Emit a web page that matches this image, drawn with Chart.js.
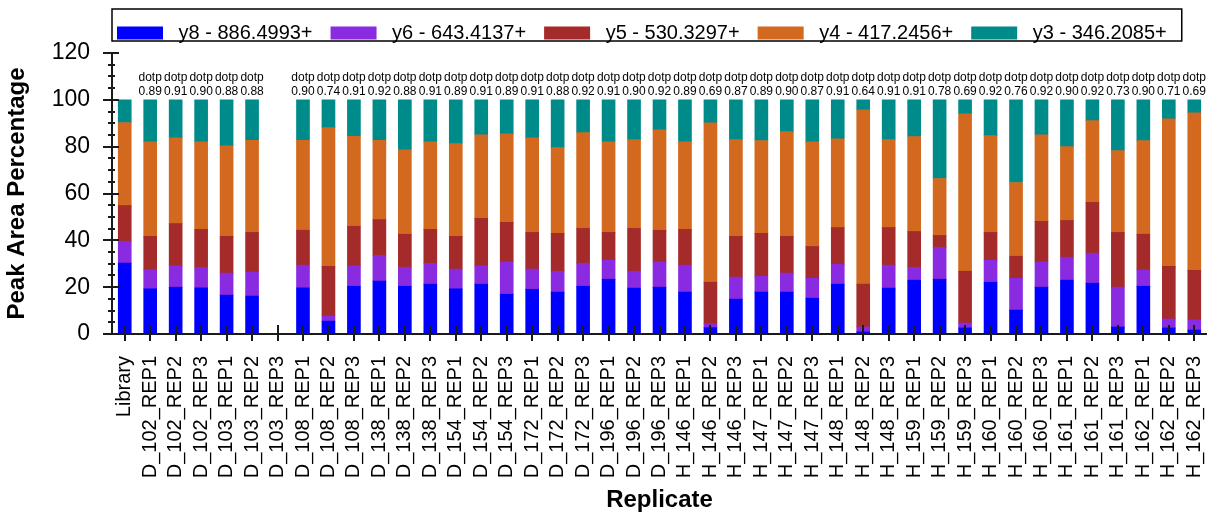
<!DOCTYPE html>
<html>
<head>
<meta charset="utf-8">
<script src="https://cdn.jsdelivr.net/npm/chart.js@4.4.0/dist/chart.umd.min.js"></script>
<style>
  html, body { margin: 0; padding: 0; background: #fff; }
  #wrap { width: 1211px; height: 517px; }
</style>
</head>
<body>
<div id="wrap"><canvas id="peakChart" width="1211" height="517"></canvas></div>
<script>
// replicates on the x axis
var replicates = [
  'Library',
  'D_102_REP1', 'D_102_REP2', 'D_102_REP3',
  'D_103_REP1', 'D_103_REP2', 'D_103_REP3',
  'D_108_REP1', 'D_108_REP2', 'D_108_REP3',
  'D_138_REP1', 'D_138_REP2', 'D_138_REP3',
  'D_154_REP1', 'D_154_REP2', 'D_154_REP3',
  'D_172_REP1', 'D_172_REP2', 'D_172_REP3',
  'D_196_REP1', 'D_196_REP2', 'D_196_REP3',
  'H_146_REP1', 'H_146_REP2', 'H_146_REP3',
  'H_147_REP1', 'H_147_REP2', 'H_147_REP3',
  'H_148_REP1', 'H_148_REP2', 'H_148_REP3',
  'H_159_REP1', 'H_159_REP2', 'H_159_REP3',
  'H_160_REP1', 'H_160_REP2', 'H_160_REP3',
  'H_161_REP1', 'H_161_REP2', 'H_161_REP3',
  'H_162_REP1', 'H_162_REP2', 'H_162_REP3'
];

// peak area percentage per transition (stacked bottom to top)
var y8 = [30.3, 19.3, 20.0, 19.7, 16.6, 16.2, 0, 19.7, 5.5, 20.4, 22.6, 20.4, 21.3, 19.3, 21.3, 17.0,
  19.1, 17.9, 20.4, 23.4, 19.6, 20.0, 17.9, 2.7, 14.9, 17.9, 17.9, 15.3, 21.3, 0.9, 19.6,
  23.0, 23.4, 2.6, 22.1, 10.2, 20.0, 23.0, 21.7, 3.0, 20.4, 2.6, 1.7];
var y6 = [9.3, 8.1, 9.1, 8.8, 9.4, 10.3, 0, 9.7, 2.2, 8.7, 11.0, 8.1, 8.9, 8.4, 7.8, 13.8,
  8.6, 8.9, 9.8, 8.1, 7.2, 10.8, 11.5, 1.7, 9.4, 6.8, 8.1, 8.5, 8.5, 2.1, 9.8,
  5.5, 13.6, 2.1, 9.4, 13.6, 10.8, 9.8, 12.8, 17.0, 7.0, 3.8, 4.3];
var y5 = [15.3, 14.3, 18.1, 16.2, 15.7, 16.9, 0, 14.9, 21.2, 16.9, 15.3, 14.1, 14.5, 14.0, 20.3, 16.9,
  15.7, 16.2, 14.9, 11.9, 18.3, 13.5, 15.3, 17.7, 17.4, 18.3, 15.7, 13.6, 15.7, 18.3, 16.1,
  15.3, 5.1, 22.1, 11.9, 9.4, 17.3, 15.7, 21.7, 23.4, 15.2, 22.5, 21.2];
var y4 = [35.4, 40.4, 36.6, 37.4, 38.7, 39.3, 0, 38.4, 59.2, 38.4, 33.8, 36.1, 37.4, 39.6, 35.7, 37.8,
  40.4, 36.6, 40.9, 38.7, 37.9, 42.9, 37.4, 68.1, 41.3, 39.6, 44.7, 44.7, 37.9, 74.4, 37.5,
  40.5, 24.3, 67.2, 41.3, 31.5, 37.0, 31.5, 34.9, 34.9, 40.0, 63.0, 67.3];
var y3 = [9.7, 17.9, 16.2, 17.9, 19.6, 17.3, 0, 17.3, 11.9, 15.6, 17.3, 21.3, 17.9, 18.7, 14.9, 14.5,
  16.2, 20.4, 14.0, 17.9, 17.0, 12.8, 17.9, 9.8, 17.0, 17.4, 13.6, 17.9, 16.6, 4.3, 17.0,
  15.7, 33.6, 6.0, 15.3, 35.3, 14.9, 20.0, 8.9, 21.7, 17.4, 8.1, 5.5];

// dot product shown above each replicate
var dotp = [null, 0.89, 0.91, 0.90, 0.88, 0.88, null, 0.90, 0.74, 0.91, 0.92, 0.88, 0.91, 0.89, 0.91,
  0.89, 0.91, 0.88, 0.92, 0.91, 0.90, 0.92, 0.89, 0.69, 0.87, 0.89, 0.90, 0.87, 0.91, 0.64, 0.91,
  0.91, 0.78, 0.69, 0.92, 0.76, 0.92, 0.90, 0.92, 0.73, 0.90, 0.71, 0.69];

var seriesNames = ['y8 - 886.4993+', 'y6 - 643.4137+', 'y5 - 530.3297+', 'y4 - 417.2456+', 'y3 - 346.2085+'];
var seriesColors = ['#0000ff', '#8a2be2', '#a52a2a', '#d2691e', '#008b8b'];
var seriesData = [y8, y6, y5, y4, y3];

var FONT = "Arial, 'Liberation Sans', sans-serif";
Chart.defaults.font.family = FONT;
Chart.defaults.color = '#000';

var axisMarks = {
  id: 'axisMarks',
  afterLayout: function (chart) {
    // move legend row so it starts where the original one does
    var lg = chart.legend;
    var pad = lg.options.labels.padding;
    var x0 = (lg.left + pad + lg.right - lg.lineWidths[0]) / 2;
    var d = 117 - x0;
    lg.left += d;
    lg.right += d;
  },
  afterDatasetsDraw: function (chart) {
    var ctx = chart.ctx, ca = chart.chartArea;
    var xs = chart.scales.x, ys = chart.scales.y;
    ctx.save();
    ctx.strokeStyle = '#1a1a1a';
    ctx.lineWidth = 2;
    ctx.beginPath();
    ctx.moveTo(ca.left, ca.top);
    ctx.lineTo(ca.left, ca.bottom);
    ctx.lineTo(ca.right, ca.bottom);
    ctx.stroke();

    ctx.beginPath();
    for (var v = 0; v <= 120; v += 5) {
      var y = Math.round(ys.getPixelForValue(v));
      if (v % 20 === 0) {
        ctx.moveTo(ca.left - 9, y); ctx.lineTo(ca.left + 7, y);
      } else {
        ctx.moveTo(ca.left - 4, y); ctx.lineTo(ca.left + 3, y);
      }
    }
    for (var i = 0; i < replicates.length; i++) {
      var x = Math.round(xs.getPixelForValue(i));
      ctx.moveTo(x, ca.bottom - 9); ctx.lineTo(x, ca.bottom + 7);
    }
    ctx.stroke();

    // dotp labels
    ctx.fillStyle = '#000';
    ctx.font = '12px ' + FONT;
    ctx.textAlign = 'center';
    ctx.textBaseline = 'middle';
    var top = ys.getPixelForValue(100);
    dotp.forEach(function (d, i) {
      if (d === null) return;
      var x = xs.getPixelForValue(i);
      ctx.fillText('dotp', x, top - 22);
      ctx.fillText(d.toFixed(2), x, top - 8);
    });
    ctx.restore();
  },
  afterDraw: function (chart) {
    var lg = chart.legend, ctx = chart.ctx;
    var pad = lg.options.labels.padding;
    var x0 = (lg.left + pad + lg.right - lg.lineWidths[0]) / 2;
    var x1 = x0 + lg.lineWidths[0] - pad;
    ctx.save();
    ctx.strokeStyle = '#000';
    ctx.lineWidth = 1.5;
    ctx.strokeRect(x0 - 5, 9, x1 - x0 + 20, 32);
    ctx.restore();
  }
};

new Chart(document.getElementById('peakChart').getContext('2d'), {
  type: 'bar',
  data: {
    labels: replicates,
    datasets: seriesData.map(function (d, k) {
      return {
        label: seriesNames[k],
        data: d,
        backgroundColor: seriesColors[k],
        borderWidth: 0,
        barThickness: 13
      };
    })
  },
  options: {
    responsive: false,
    animation: false,
    events: [],
    layout: { padding: { top: -2.5, right: 4, left: 0, bottom: 0 } },
    plugins: {
      tooltip: { enabled: false },
      legend: {
        position: 'top',
        labels: {
          boxWidth: 46,
          boxHeight: 13,
          padding: 18,
          color: '#000',
          font: { size: 20 },
          generateLabels: function (chart) {
            var items = Chart.defaults.plugins.legend.labels.generateLabels(chart);
            items.forEach(function (it) { it.text = ' ' + it.text; it.lineWidth = 0; });
            return items;
          }
        }
      }
    },
    scales: {
      x: {
        stacked: true,
        grid: { display: false, drawTicks: false },
        border: { display: false },
        ticks: {
          autoSkip: false,
          maxRotation: 90,
          minRotation: 90,
          padding: 22,
          color: '#000',
          font: { size: 20 }
        },
        title: {
          display: true,
          text: 'Replicate',
          color: '#000',
          font: { size: 24, weight: 'bold' },
          padding: { top: 0, bottom: 2.6 }
        },
        afterFit: function (s) {
          s.height = 183;
          s.paddingLeft = 0;
          s.paddingRight = 0;
        }
      },
      y: {
        stacked: true,
        min: 0,
        max: 120,
        grid: { display: false, drawTicks: false },
        border: { display: false },
        ticks: {
          stepSize: 20,
          padding: 22,
          color: '#000',
          font: { size: 23 }
        },
        title: {
          display: true,
          text: 'Peak Area Percentage',
          color: '#000',
          font: { size: 24, weight: 'bold' },
          padding: { top: 2.6, bottom: 0 }
        },
        afterFit: function (s) {
          s.width = 112;
          s.paddingTop = 53;
          s.paddingBottom = 0;
        }
      }
    }
  },
  plugins: [axisMarks]
});
</script>
</body>
</html>
